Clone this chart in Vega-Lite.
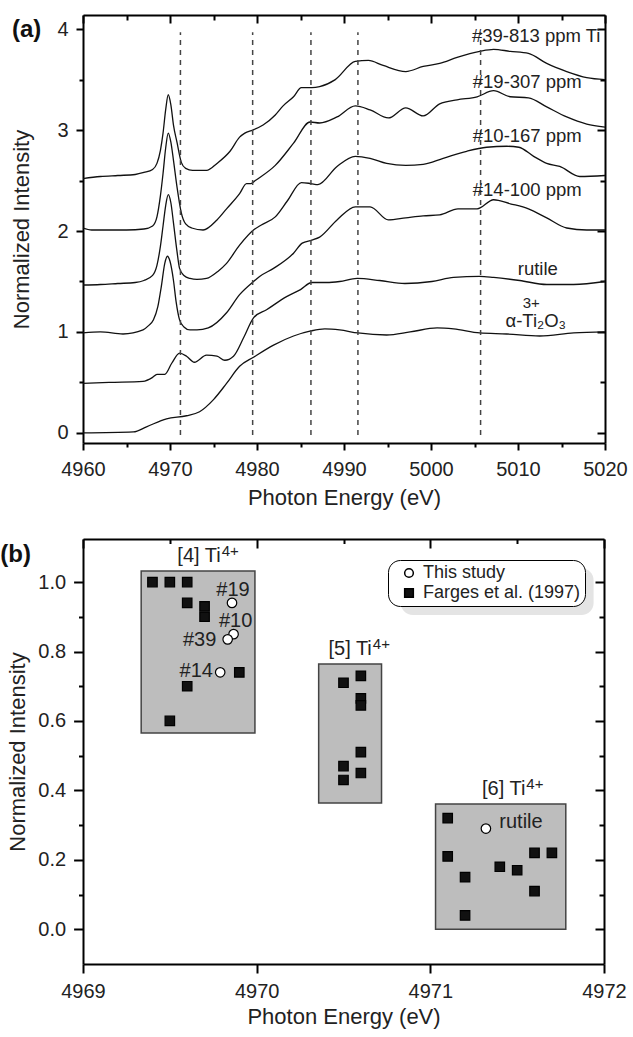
{
"$schema": "https://vega.github.io/schema/vega-lite/v6.json",
"padding": {"left": 0, "top": 14, "right": 5, "bottom": 8},
"background": "white",
"spacing": 30,
"resolve": {"legend": {"shape": "independent", "fill": "independent"}},
"config": {
  "font": "Liberation Sans",
  "view": {"stroke": null},
  "axis": {"grid": false, "domainColor": "black", "domainWidth": 2, "tickColor": "black", "tickWidth": 2, "labelColor": "#222", "titleColor": "#222", "labelFont": "Liberation Sans", "titleFont": "Liberation Sans", "labelFontSize": 20, "titleFontSize": 22, "titleFontWeight": "normal", "labelFlush": false, "labelOverlap": false, "labelBound": false},
  "text": {"font": "Liberation Sans", "color": "#222"}
},
"datasets": {
  "spectra": [
    {"s":"39","E":4960,"I":2.52},{"s":"39","E":4962,"I":2.54},{"s":"39","E":4964,"I":2.55},{"s":"39","E":4966,"I":2.56},{"s":"39","E":4967,"I":2.58},{"s":"39","E":4968,"I":2.61},{"s":"39","E":4968.5,"I":2.67},{"s":"39","E":4968.9,"I":2.8},{"s":"39","E":4969.2,"I":2.97},{"s":"39","E":4969.5,"I":3.2},{"s":"39","E":4969.8,"I":3.35},{"s":"39","E":4970.1,"I":3.25},{"s":"39","E":4970.4,"I":3.05},{"s":"39","E":4970.8,"I":2.88},{"s":"39","E":4971.3,"I":2.68},{"s":"39","E":4971.8,"I":2.62},{"s":"39","E":4972.6,"I":2.6},{"s":"39","E":4974.2,"I":2.6},{"s":"39","E":4975.4,"I":2.67},{"s":"39","E":4976.9,"I":2.79},{"s":"39","E":4978,"I":2.93},{"s":"39","E":4978.6,"I":2.97},{"s":"39","E":4979.5,"I":3.0},{"s":"39","E":4980.7,"I":3.05},{"s":"39","E":4982.1,"I":3.15},{"s":"39","E":4983,"I":3.24},{"s":"39","E":4984.2,"I":3.33},{"s":"39","E":4985.1,"I":3.42},{"s":"39","E":4986.3,"I":3.42},{"s":"39","E":4987.2,"I":3.43},{"s":"39","E":4989,"I":3.5},{"s":"39","E":4991.3,"I":3.68},{"s":"39","E":4992.8,"I":3.69},{"s":"39","E":4994.5,"I":3.64},{"s":"39","E":4997.1,"I":3.58},{"s":"39","E":4999.1,"I":3.63},{"s":"39","E":5001,"I":3.66},{"s":"39","E":5003,"I":3.72},{"s":"39","E":5005.6,"I":3.78},{"s":"39","E":5007.2,"I":3.8},{"s":"39","E":5009.1,"I":3.78},{"s":"39","E":5011.2,"I":3.76},{"s":"39","E":5013.3,"I":3.66},{"s":"39","E":5015.6,"I":3.58},{"s":"39","E":5017.9,"I":3.52},{"s":"39","E":5020,"I":3.5},
    {"s":"19","E":4960,"I":2.03},{"s":"19","E":4961,"I":2.01},{"s":"19","E":4963,"I":2.01},{"s":"19","E":4965,"I":2.01},{"s":"19","E":4967,"I":2.02},{"s":"19","E":4968,"I":2.05},{"s":"19","E":4968.5,"I":2.14},{"s":"19","E":4968.9,"I":2.35},{"s":"19","E":4969.2,"I":2.57},{"s":"19","E":4969.5,"I":2.82},{"s":"19","E":4969.8,"I":2.97},{"s":"19","E":4970.1,"I":2.88},{"s":"19","E":4970.4,"I":2.7},{"s":"19","E":4970.8,"I":2.44},{"s":"19","E":4971.3,"I":2.18},{"s":"19","E":4971.8,"I":2.07},{"s":"19","E":4972.5,"I":2.03},{"s":"19","E":4973.8,"I":2.01},{"s":"19","E":4975.4,"I":2.11},{"s":"19","E":4976.5,"I":2.22},{"s":"19","E":4978,"I":2.37},{"s":"19","E":4978.8,"I":2.47},{"s":"19","E":4979.3,"I":2.47},{"s":"19","E":4979.8,"I":2.5},{"s":"19","E":4982.1,"I":2.65},{"s":"19","E":4984.2,"I":2.87},{"s":"19","E":4986.1,"I":3.08},{"s":"19","E":4987.2,"I":3.07},{"s":"19","E":4989.2,"I":3.13},{"s":"19","E":4991.3,"I":3.24},{"s":"19","E":4993,"I":3.2},{"s":"19","E":4995.1,"I":3.12},{"s":"19","E":4997.1,"I":3.22},{"s":"19","E":4999.1,"I":3.14},{"s":"19","E":5001,"I":3.26},{"s":"19","E":5003,"I":3.3},{"s":"19","E":5005.3,"I":3.33},{"s":"19","E":5007.2,"I":3.39},{"s":"19","E":5009.1,"I":3.33},{"s":"19","E":5011.2,"I":3.32},{"s":"19","E":5013.3,"I":3.23},{"s":"19","E":5015.6,"I":3.13},{"s":"19","E":5017.9,"I":3.06},{"s":"19","E":5020,"I":3.03},
    {"s":"10","E":4960,"I":1.465},{"s":"10","E":4962,"I":1.47},{"s":"10","E":4964,"I":1.48},{"s":"10","E":4966,"I":1.49},{"s":"10","E":4967,"I":1.51},{"s":"10","E":4968,"I":1.56},{"s":"10","E":4968.5,"I":1.66},{"s":"10","E":4968.9,"I":1.85},{"s":"10","E":4969.2,"I":2.05},{"s":"10","E":4969.5,"I":2.25},{"s":"10","E":4969.8,"I":2.36},{"s":"10","E":4970.1,"I":2.28},{"s":"10","E":4970.4,"I":2.08},{"s":"10","E":4970.8,"I":1.8},{"s":"10","E":4971.1,"I":1.63},{"s":"10","E":4971.6,"I":1.56},{"s":"10","E":4972.3,"I":1.53},{"s":"10","E":4973.1,"I":1.52},{"s":"10","E":4974.2,"I":1.53},{"s":"10","E":4975.5,"I":1.6},{"s":"10","E":4976.5,"I":1.68},{"s":"10","E":4978,"I":1.86},{"s":"10","E":4979.6,"I":2.01},{"s":"10","E":4980.5,"I":2.06},{"s":"10","E":4982.1,"I":2.14},{"s":"10","E":4983.5,"I":2.3},{"s":"10","E":4985.1,"I":2.48},{"s":"10","E":4986.2,"I":2.47},{"s":"10","E":4987,"I":2.46},{"s":"10","E":4989.2,"I":2.64},{"s":"10","E":4991.3,"I":2.74},{"s":"10","E":4993,"I":2.72},{"s":"10","E":4994.9,"I":2.67},{"s":"10","E":4997.1,"I":2.65},{"s":"10","E":4999.1,"I":2.66},{"s":"10","E":5001.4,"I":2.72},{"s":"10","E":5004.1,"I":2.79},{"s":"10","E":5006.4,"I":2.83},{"s":"10","E":5008.7,"I":2.84},{"s":"10","E":5010.1,"I":2.83},{"s":"10","E":5011.8,"I":2.74},{"s":"10","E":5013.3,"I":2.67},{"s":"10","E":5014.8,"I":2.64},{"s":"10","E":5017.1,"I":2.54},{"s":"10","E":5020,"I":2.55},
    {"s":"14","E":4960,"I":0.99},{"s":"14","E":4962,"I":1.0},{"s":"14","E":4964.6,"I":0.98},{"s":"14","E":4966.9,"I":1.02},{"s":"14","E":4967.5,"I":1.06},{"s":"14","E":4968.1,"I":1.12},{"s":"14","E":4968.6,"I":1.25},{"s":"14","E":4969,"I":1.45},{"s":"14","E":4969.4,"I":1.68},{"s":"14","E":4969.7,"I":1.75},{"s":"14","E":4970,"I":1.7},{"s":"14","E":4970.4,"I":1.51},{"s":"14","E":4970.7,"I":1.3},{"s":"14","E":4971.1,"I":1.12},{"s":"14","E":4971.6,"I":1.05},{"s":"14","E":4972.3,"I":1.02},{"s":"14","E":4973.1,"I":1.02},{"s":"14","E":4974.4,"I":1.04},{"s":"14","E":4976.5,"I":1.19},{"s":"14","E":4978,"I":1.37},{"s":"14","E":4979.6,"I":1.5},{"s":"14","E":4980.3,"I":1.55},{"s":"14","E":4981.9,"I":1.63},{"s":"14","E":4984.2,"I":1.78},{"s":"14","E":4985.2,"I":1.88},{"s":"14","E":4986.3,"I":1.91},{"s":"14","E":4987.2,"I":1.94},{"s":"14","E":4989.2,"I":2.11},{"s":"14","E":4991.3,"I":2.24},{"s":"14","E":4993,"I":2.24},{"s":"14","E":4995.1,"I":2.11},{"s":"14","E":4997.1,"I":2.13},{"s":"14","E":4999.1,"I":2.15},{"s":"14","E":5001,"I":2.16},{"s":"14","E":5003.1,"I":2.22},{"s":"14","E":5005.3,"I":2.22},{"s":"14","E":5007.2,"I":2.31},{"s":"14","E":5009.1,"I":2.27},{"s":"14","E":5011.2,"I":2.22},{"s":"14","E":5013.3,"I":2.13},{"s":"14","E":5015.6,"I":2.03},{"s":"14","E":5017.9,"I":2.01},{"s":"14","E":5020,"I":2.01},
    {"s":"rutile","E":4960,"I":0.49},{"s":"rutile","E":4963,"I":0.5},{"s":"rutile","E":4966.9,"I":0.51},{"s":"rutile","E":4968,"I":0.55},{"s":"rutile","E":4968.5,"I":0.58},{"s":"rutile","E":4969.4,"I":0.58},{"s":"rutile","E":4970.2,"I":0.69},{"s":"rutile","E":4971.1,"I":0.79},{"s":"rutile","E":4971.9,"I":0.76},{"s":"rutile","E":4972.8,"I":0.7},{"s":"rutile","E":4974.2,"I":0.77},{"s":"rutile","E":4975.4,"I":0.76},{"s":"rutile","E":4976.3,"I":0.72},{"s":"rutile","E":4977.3,"I":0.76},{"s":"rutile","E":4978.5,"I":0.95},{"s":"rutile","E":4979.6,"I":1.14},{"s":"rutile","E":4981.1,"I":1.22},{"s":"rutile","E":4983.4,"I":1.35},{"s":"rutile","E":4985,"I":1.42},{"s":"rutile","E":4986.3,"I":1.49},{"s":"rutile","E":4988,"I":1.49},{"s":"rutile","E":4989.5,"I":1.5},{"s":"rutile","E":4991.5,"I":1.53},{"s":"rutile","E":4994.1,"I":1.51},{"s":"rutile","E":4997,"I":1.48},{"s":"rutile","E":5000.1,"I":1.5},{"s":"rutile","E":5002.6,"I":1.54},{"s":"rutile","E":5005.6,"I":1.55},{"s":"rutile","E":5007.2,"I":1.54},{"s":"rutile","E":5010.2,"I":1.51},{"s":"rutile","E":5013.3,"I":1.47},{"s":"rutile","E":5016.4,"I":1.47},{"s":"rutile","E":5020,"I":1.5},
    {"s":"Ti2O3","E":4960,"I":0.0},{"s":"Ti2O3","E":4965.8,"I":0.01},{"s":"Ti2O3","E":4967.3,"I":0.06},{"s":"Ti2O3","E":4969.6,"I":0.14},{"s":"Ti2O3","E":4971.9,"I":0.17},{"s":"Ti2O3","E":4973.4,"I":0.21},{"s":"Ti2O3","E":4975,"I":0.33},{"s":"Ti2O3","E":4976.5,"I":0.49},{"s":"Ti2O3","E":4978,"I":0.66},{"s":"Ti2O3","E":4979.6,"I":0.75},{"s":"Ti2O3","E":4981.9,"I":0.87},{"s":"Ti2O3","E":4984.2,"I":0.96},{"s":"Ti2O3","E":4986.2,"I":1.01},{"s":"Ti2O3","E":4987.8,"I":1.03},{"s":"Ti2O3","E":4989.5,"I":1.02},{"s":"Ti2O3","E":4991.6,"I":0.99},{"s":"Ti2O3","E":4994.9,"I":0.97},{"s":"Ti2O3","E":4997.6,"I":1.0},{"s":"Ti2O3","E":5000.7,"I":1.04},{"s":"Ti2O3","E":5002.6,"I":1.03},{"s":"Ti2O3","E":5005.6,"I":0.99},{"s":"Ti2O3","E":5008.7,"I":0.98},{"s":"Ti2O3","E":5012.5,"I":0.96},{"s":"Ti2O3","E":5016.4,"I":0.99},{"s":"Ti2O3","E":5020,"I":1.0}
  ],
  "dashes": [
    {"E":4971.2,"y1":-0.02,"y2":3.97},{"E":4979.5,"y1":-0.02,"y2":3.97},{"E":4986.2,"y1":-0.02,"y2":3.97},{"E":4991.6,"y1":-0.02,"y2":3.97},{"E":5005.7,"y1":-0.02,"y2":3.97}
  ],
  "labelsA": [
    {"x":5004.7,"y":3.874,"t":"#39-813 ppm Ti"},{"x":5004.8,"y":3.42,"t":"#19-307 ppm"},{"x":5004.8,"y":2.884,"t":"#10-167 ppm"},{"x":5004.8,"y":2.347,"t":"#14-100 ppm"},{"x":5009.97,"y":1.564,"t":"rutile"},{"x":5008.56,"y":1.052,"t":"α-Ti₂O₃"}
  ],
  "supA": [{"x":5010.54,"y":1.235,"t":"3+"}],
  "tagA": [{"x":4951.84,"y":3.92,"t":"(a)"}],
  "boxes": [
    {"x1":4969.335,"x2":4969.99,"y1":0.565,"y2":1.032},
    {"x1":4970.357,"x2":4970.719,"y1":0.364,"y2":0.764},
    {"x1":4971.03,"x2":4971.78,"y1":0.0,"y2":0.361}
  ],
  "shadow": [{"x1":4970.83,"x2":4971.94,"y1":0.905,"y2":1.04}],
  "points": [
    {"E":4969.4,"I":1.0,"src":"Farges et al. (1997)"},{"E":4969.5,"I":1.0,"src":"Farges et al. (1997)"},{"E":4969.6,"I":1.0,"src":"Farges et al. (1997)"},{"E":4969.6,"I":0.94,"src":"Farges et al. (1997)"},{"E":4969.7,"I":0.93,"src":"Farges et al. (1997)"},{"E":4969.7,"I":0.9,"src":"Farges et al. (1997)"},{"E":4969.6,"I":0.7,"src":"Farges et al. (1997)"},{"E":4969.5,"I":0.6,"src":"Farges et al. (1997)"},{"E":4969.9,"I":0.74,"src":"Farges et al. (1997)"},
    {"E":4970.5,"I":0.71,"src":"Farges et al. (1997)"},{"E":4970.6,"I":0.73,"src":"Farges et al. (1997)"},{"E":4970.6,"I":0.665,"src":"Farges et al. (1997)"},{"E":4970.6,"I":0.645,"src":"Farges et al. (1997)"},{"E":4970.6,"I":0.51,"src":"Farges et al. (1997)"},{"E":4970.5,"I":0.47,"src":"Farges et al. (1997)"},{"E":4970.6,"I":0.45,"src":"Farges et al. (1997)"},{"E":4970.5,"I":0.43,"src":"Farges et al. (1997)"},
    {"E":4971.1,"I":0.32,"src":"Farges et al. (1997)"},{"E":4971.1,"I":0.21,"src":"Farges et al. (1997)"},{"E":4971.2,"I":0.15,"src":"Farges et al. (1997)"},{"E":4971.2,"I":0.04,"src":"Farges et al. (1997)"},{"E":4971.4,"I":0.18,"src":"Farges et al. (1997)"},{"E":4971.5,"I":0.17,"src":"Farges et al. (1997)"},{"E":4971.6,"I":0.22,"src":"Farges et al. (1997)"},{"E":4971.6,"I":0.11,"src":"Farges et al. (1997)"},{"E":4971.7,"I":0.22,"src":"Farges et al. (1997)"},
    {"E":4969.858,"I":0.94,"src":"This study"},{"E":4969.867,"I":0.85,"src":"This study"},{"E":4969.833,"I":0.835,"src":"This study"},{"E":4969.79,"I":0.74,"src":"This study"},{"E":4971.32,"I":0.29,"src":"This study"}
  ],
  "labelsB": [
    {"x":4969.96,"y":0.96,"t":"#19"},{"x":4969.975,"y":0.871,"t":"#10"},{"x":4969.768,"y":0.8156,"t":"#39"},{"x":4969.748,"y":0.727,"t":"#14"},{"x":4971.647,"y":0.293,"t":"rutile"},
    {"x":4969.793,"y":1.058,"t":"[4] Ti"},{"x":4970.663,"y":0.79,"t":"[5] Ti"},{"x":4971.547,"y":0.386,"t":"[6] Ti"}
  ],
  "supB": [
    {"x":4969.793,"y":1.058,"t":"4+"},{"x":4970.663,"y":0.79,"t":"4+"},{"x":4971.547,"y":0.386,"t":"4+"}
  ],
  "tagB": [{"x":4968.524,"y":1.058,"t":"(b)"}]
},
"vconcat": [
  {
    "width": 522, "height": 428,
    "layer": [
      {
        "data": {"name": "spectra"},
        "mark": {"type": "line", "color": "#111", "strokeWidth": 1.3, "interpolate": "monotone"},
        "encoding": {
          "x": {"field": "E", "type": "quantitative", "scale": {"domain": [4960, 5020], "nice": false, "zero": false},
            "axis": {"orient": "bottom", "values": [4960,4965,4970,4975,4980,4985,4990,4995,5000,5005,5010,5015,5020], "format": "d", "labelExpr": "datum.value % 10 == 0 ? datum.label : ''", "tickSize": {"condition": {"test": "datum.value % 10 == 0", "value": 7}, "value": 4}, "labelPadding": 9.5, "title": "Photon Energy (eV)", "titleY": 44, "titleBaseline": "top"}},
          "y": {"field": "I", "type": "quantitative", "scale": {"domain": [-0.1, 4.14], "nice": false, "zero": false},
            "axis": {"orient": "left", "values": [0,0.5,1,1.5,2,2.5,3,3.5,4], "labelExpr": "datum.value % 1 == 0 ? format(datum.value, 'd') : ''", "tickSize": {"condition": {"test": "datum.value % 1 == 0", "value": 7}, "value": 4}, "labelPadding": 8, "title": "Normalized Intensity", "titleX": -61.5, "titleY": 214, "titleBaseline": "middle"}},
          "detail": {"field": "s"}
        }
      },
      {
        "data": {"name": "dashes"},
        "mark": {"type": "rule", "strokeDash": [5, 5], "color": "#444", "strokeWidth": 1.5},
        "encoding": {
          "x": {"field": "E", "type": "quantitative", "scale": {"domain": [4960, 5020], "nice": false, "zero": false},
            "axis": {"orient": "top", "values": [4960,4965,4970,4975,4980,4985,4990,4995,5000,5005,5010,5015,5020], "labels": false, "title": null, "tickSize": {"condition": {"test": "datum.value % 10 == 0", "value": -8}, "value": -5}}},
          "y": {"field": "y1", "type": "quantitative", "scale": {"domain": [-0.1, 4.14], "nice": false, "zero": false},
            "axis": {"orient": "right", "values": [0,0.5,1,1.5,2,2.5,3,3.5,4], "labels": false, "title": null, "tickSize": {"condition": {"test": "datum.value % 1 == 0", "value": -8}, "value": -5}}},
          "y2": {"field": "y2"}
        }
      },
      {
        "data": {"name": "labelsA"},
        "mark": {"type": "text", "align": "left", "baseline": "alphabetic", "fontSize": 18.5},
        "encoding": {
          "x": {"field": "x", "type": "quantitative", "axis": null, "scale": {"domain": [4960, 5020], "nice": false, "zero": false}},
          "y": {"field": "y", "type": "quantitative", "axis": null, "scale": {"domain": [-0.1, 4.14], "nice": false, "zero": false}},
          "text": {"field": "t"}
        }
      },
      {
        "data": {"name": "supA"},
        "mark": {"type": "text", "align": "left", "baseline": "alphabetic", "fontSize": 15},
        "encoding": {
          "x": {"field": "x", "type": "quantitative", "axis": null, "scale": {"domain": [4960, 5020], "nice": false, "zero": false}},
          "y": {"field": "y", "type": "quantitative", "axis": null, "scale": {"domain": [-0.1, 4.14], "nice": false, "zero": false}},
          "text": {"field": "t"}
        }
      },
      {
        "data": {"name": "tagA"},
        "mark": {"type": "text", "align": "left", "baseline": "alphabetic", "fontSize": 24, "fontWeight": "bold", "color": "#111"},
        "encoding": {
          "x": {"field": "x", "type": "quantitative", "axis": null, "scale": {"domain": [4960, 5020], "nice": false, "zero": false}},
          "y": {"field": "y", "type": "quantitative", "axis": null, "scale": {"domain": [-0.1, 4.14], "nice": false, "zero": false}},
          "text": {"field": "t"}
        }
      }
    ],
    "resolve": {"axis": {"x": "independent", "y": "independent"}}
  },
  {
    "width": 521, "height": 425,
    "layer": [
      {
        "data": {"name": "boxes"},
        "mark": {"type": "rect", "fill": "#bdbdbd", "stroke": "#444", "strokeWidth": 1.5},
        "encoding": {
          "x": {"field": "x1", "type": "quantitative", "scale": {"domain": [4969, 4972], "nice": false, "zero": false},
            "axis": {"orient": "bottom", "values": [4969,4969.5,4970,4970.5,4971,4971.5,4972], "format": "d", "labelExpr": "datum.value % 1 == 0 ? datum.label : ''", "tickSize": {"condition": {"test": "datum.value % 1 == 0", "value": 9}, "value": 4.5}, "labelPadding": 8.5, "title": "Photon Energy (eV)", "titleY": 42, "titleBaseline": "top"}},
          "x2": {"field": "x2"},
          "y": {"field": "y1", "type": "quantitative", "scale": {"domain": [-0.1, 1.124], "nice": false, "zero": false},
            "axis": {"orient": "left", "values": [0,0.1,0.2,0.3,0.4,0.5,0.6,0.7,0.8,0.9,1.0], "format": ".1f", "labelExpr": "abs(datum.value*5 - round(datum.value*5)) < 0.001 ? datum.label : ''", "tickSize": {"condition": {"test": "abs(datum.value*5 - round(datum.value*5)) < 0.001", "value": 9.4}, "value": 4.5}, "labelPadding": 8, "title": "Normalized Intensity", "titleX": -65.5, "titleY": 212.5, "titleBaseline": "middle"}},
          "y2": {"field": "y2"}
        }
      },
      {
        "data": {"name": "shadow"},
        "mark": {"type": "rect", "fill": "#777", "opacity": 0.2, "cornerRadius": 12},
        "encoding": {
          "x": {"field": "x1", "type": "quantitative", "axis": null, "scale": {"domain": [4969, 4972], "nice": false, "zero": false}},
          "x2": {"field": "x2"},
          "y": {"field": "y1", "type": "quantitative", "axis": null, "scale": {"domain": [-0.1, 1.124], "nice": false, "zero": false}},
          "y2": {"field": "y2"}
        }
      },
      {
        "data": {"name": "points"},
        "mark": {"type": "point", "filled": true, "strokeWidth": 1.2, "opacity": 1},
        "encoding": {
          "x": {"field": "E", "type": "quantitative", "scale": {"domain": [4969, 4972], "nice": false, "zero": false},
            "axis": {"orient": "top", "values": [4969,4969.5,4970,4970.5,4971,4971.5,4972], "labels": false, "title": null, "tickSize": {"condition": {"test": "datum.value % 1 == 0", "value": -9}, "value": -4.5}}},
          "y": {"field": "I", "type": "quantitative", "scale": {"domain": [-0.1, 1.124], "nice": false, "zero": false},
            "axis": {"orient": "right", "values": [0,0.1,0.2,0.3,0.4,0.5,0.6,0.7,0.8,0.9,1.0], "labels": false, "title": null, "tickSize": {"condition": {"test": "abs(datum.value*5 - round(datum.value*5)) < 0.001", "value": -9}, "value": -5}}},
          "shape": {"field": "src", "type": "nominal", "scale": {"domain": ["This study", "Farges et al. (1997)"], "range": ["circle", "square"]},
            "legend": {"orient": "none", "legendX": 305, "legendY": 21, "title": null, "labelFontSize": 18, "labelFont": "Liberation Sans", "labelColor": "#222", "fillColor": "white", "strokeColor": "black", "cornerRadius": 12, "padding": 4, "symbolOffset": 8, "rowPadding": 2, "symbolSize": 75, "labelOffset": 5,
              "encode": {"symbols": {"update": {"stroke": {"value": "black"}, "strokeWidth": {"value": 1.2}, "opacity": {"value": 1}}}}}},
          "fill": {"field": "src", "type": "nominal", "scale": {"domain": ["This study", "Farges et al. (1997)"], "range": ["white", "#111"]},
            "legend": {"orient": "none", "legendX": 305, "legendY": 21, "title": null, "labelFontSize": 18, "labelFont": "Liberation Sans", "labelColor": "#222", "fillColor": "white", "strokeColor": "black", "cornerRadius": 12, "padding": 4, "symbolOffset": 8, "rowPadding": 2, "symbolSize": 75, "labelOffset": 5,
              "encode": {"symbols": {"update": {"stroke": {"value": "black"}, "strokeWidth": {"value": 1.2}, "opacity": {"value": 1}}}}}},
          "stroke": {"value": "black"},
          "size": {"value": 90}
        }
      },
      {
        "data": {"name": "labelsB"},
        "mark": {"type": "text", "align": "right", "baseline": "alphabetic", "fontSize": 20},
        "encoding": {
          "x": {"field": "x", "type": "quantitative", "axis": null, "scale": {"domain": [4969, 4972], "nice": false, "zero": false}},
          "y": {"field": "y", "type": "quantitative", "axis": null, "scale": {"domain": [-0.1, 1.124], "nice": false, "zero": false}},
          "text": {"field": "t"}
        }
      },
      {
        "data": {"name": "supB"},
        "mark": {"type": "text", "align": "left", "baseline": "alphabetic", "fontSize": 15, "dx": 1, "dy": -6},
        "encoding": {
          "x": {"field": "x", "type": "quantitative", "axis": null, "scale": {"domain": [4969, 4972], "nice": false, "zero": false}},
          "y": {"field": "y", "type": "quantitative", "axis": null, "scale": {"domain": [-0.1, 1.124], "nice": false, "zero": false}},
          "text": {"field": "t"}
        }
      },
      {
        "data": {"name": "tagB"},
        "mark": {"type": "text", "align": "left", "baseline": "alphabetic", "fontSize": 24, "fontWeight": "bold", "color": "#111"},
        "encoding": {
          "x": {"field": "x", "type": "quantitative", "axis": null, "scale": {"domain": [4969, 4972], "nice": false, "zero": false}},
          "y": {"field": "y", "type": "quantitative", "axis": null, "scale": {"domain": [-0.1, 1.124], "nice": false, "zero": false}},
          "text": {"field": "t"}
        }
      }
    ],
    "resolve": {"axis": {"x": "independent", "y": "independent"}}
  }
]
}
